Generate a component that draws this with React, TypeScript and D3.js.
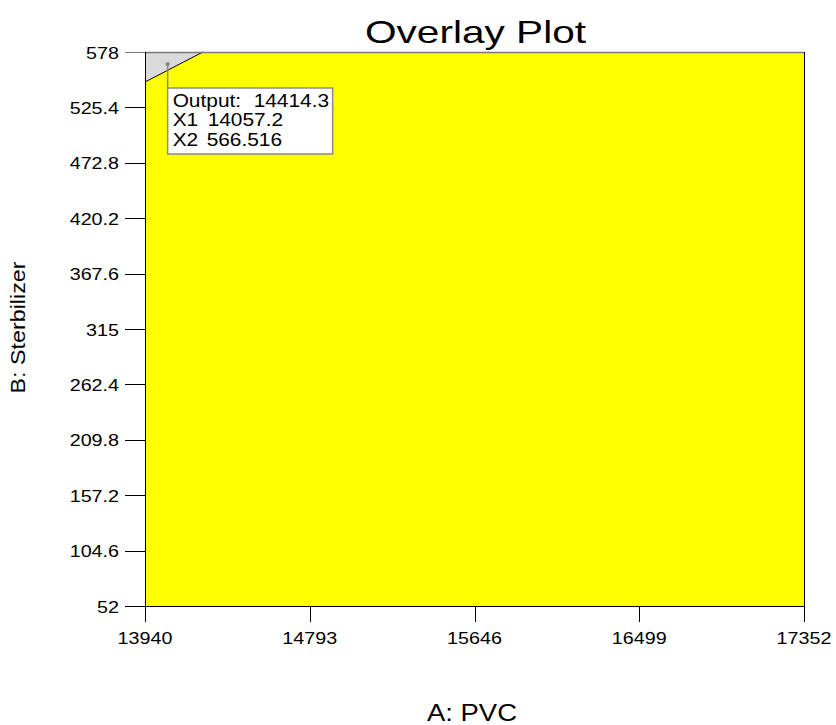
import React from "react";
import * as d3 from "d3";

const xTicks = [13940, 14793, 15646, 16499, 17352];
const yTicks = [52, 104.6, 157.2, 209.8, 262.4, 315, 367.6, 420.2, 472.8, 525.4, 578];
const xDomain = [13940, 17352];
const yDomain = [52, 578];
// infeasible (gray) region in the top-left corner: [A: PVC, B: Sterbilizer]
const greyRegion: [number, number][] = [
  [13940, 578],
  [14240, 578],
  [13940, 549.5],
];
const boundary: [number, number][] = [
  [13940, 549.5],
  [14240, 578],
];
const flagPoint = { x1: 14057.2, x2: 566.516, output: 14414.3 };
const flagLabels = ["Output:", "X1", "X2"];
const flagValues = ["14414.3", "14057.2", "566.516"];
const flagValueOffsets = [81, 35, 34];

const W = 836;
const H = 725;
const L = 145;
const R = 804;
const T = 52;
const B = 606;
const SX = 1.16;
const FONT = "'Liberation Sans', Arial, sans-serif";

function ST(props: {
  x: number;
  y: number;
  size: number;
  anchor?: string;
  fill?: string;
  children: React.ReactNode;
}) {
  return (
    <text
      transform={`translate(${props.x},${props.y}) scale(${SX},1)`}
      fontSize={props.size}
      fontFamily={FONT}
      textAnchor={props.anchor || "start"}
      fill={props.fill || "#000"}
    >
      {props.children}
    </text>
  );
}

export default function App() {
  const x = d3.scaleLinear().domain(xDomain).range([L, R]);
  const y = d3.scaleLinear().domain(yDomain).range([B, T]);
  const line = d3
    .line<[number, number]>()
    .x((d) => x(d[0]))
    .y((d) => y(d[1]));
  const closed = d3
    .line<[number, number]>()
    .x((d) => x(d[0]))
    .y((d) => y(d[1]))
    .curve(d3.curveLinearClosed);
  const px = x(flagPoint.x1);
  const py = y(flagPoint.x2);
  const boxX = px;
  const boxY = 88;
  const boxW = 165;
  const boxH = 66;

  return (
    <svg
      width={W}
      height={H}
      style={{ position: "absolute", left: 0, top: 0, background: "#fff" }}
    >
      <rect x={0} y={0} width={W} height={H} fill="#fff" />

      {/* plot background */}
      <rect x={L} y={T} width={R - L} height={B - T} fill="#ffff00" />
      <path d={closed(greyRegion) || ""} fill="#dadada" />
      <path d={line(boundary) || ""} stroke="#000" strokeWidth={1} fill="none" />

      {/* borders */}
      <line x1={L} x2={R} y1={T + 0.5} y2={T + 0.5} stroke="#777" strokeWidth={1.5} />
      <line x1={L + 0.5} x2={L + 0.5} y1={T} y2={B + 16} stroke="#000" strokeWidth={1} />
      <line x1={L} x2={R} y1={B + 0.5} y2={B + 0.5} stroke="#000" strokeWidth={1} />
      <line x1={R + 0.5} x2={R + 0.5} y1={T} y2={B} stroke="#000" strokeWidth={1} />

      {/* y ticks */}
      {yTicks.map((t) => (
        <g key={"y" + t}>
          <line
            x1={125}
            x2={L}
            y1={Math.round(y(t)) + 0.5}
            y2={Math.round(y(t)) + 0.5}
            stroke={t === 578 ? "#777" : "#000"}
            strokeWidth={1}
          />
          <ST x={119} y={y(t) + 6.5} size={17} anchor="end">
            {String(t)}
          </ST>
        </g>
      ))}

      {/* x ticks */}
      {xTicks.map((t) => (
        <g key={"x" + t}>
          <line
            x1={Math.round(x(t)) + 0.5}
            x2={Math.round(x(t)) + 0.5}
            y1={B}
            y2={B + 16}
            stroke="#000"
            strokeWidth={1}
          />
          <ST x={x(t)} y={644} size={17} anchor="middle">
            {String(t)}
          </ST>
        </g>
      ))}

      {/* flag */}
      <line x1={px} x2={px} y1={py} y2={boxY} stroke="#888" strokeWidth={1.5} />
      <circle cx={px} cy={py} r={2.2} fill="#888" />
      <rect
        x={boxX}
        y={boxY}
        width={boxW}
        height={boxH}
        fill="#fff"
        stroke="#8a8a8a"
        strokeWidth={1.5}
      />
      {flagLabels.map((s, i) => (
        <g key={s}>
          <ST x={boxX + 5} y={boxY + 18.5 + i * 19.5} size={18}>
            {s}
          </ST>
          <ST x={boxX + 5 + flagValueOffsets[i]} y={boxY + 18.5 + i * 19.5} size={18}>
            {flagValues[i]}
          </ST>
        </g>
      ))}

      {/* titles */}
      <text
        x={475.5}
        y={43}
        fontSize={32}
        fontFamily={FONT}
        textAnchor="middle"
        textLength={221}
        lengthAdjust="spacingAndGlyphs"
      >
        Overlay Plot
      </text>
      <text
        x={472}
        y={721}
        fontSize={23}
        fontFamily={FONT}
        textAnchor="middle"
        textLength={90}
        lengthAdjust="spacingAndGlyphs"
      >
        A: PVC
      </text>
      <text
        transform="translate(24.5,327.5) rotate(-90)"
        fontSize={20}
        fontFamily={FONT}
        textAnchor="middle"
        textLength={132}
        lengthAdjust="spacingAndGlyphs"
      >
        B: Sterbilizer
      </text>
    </svg>
  );
}
